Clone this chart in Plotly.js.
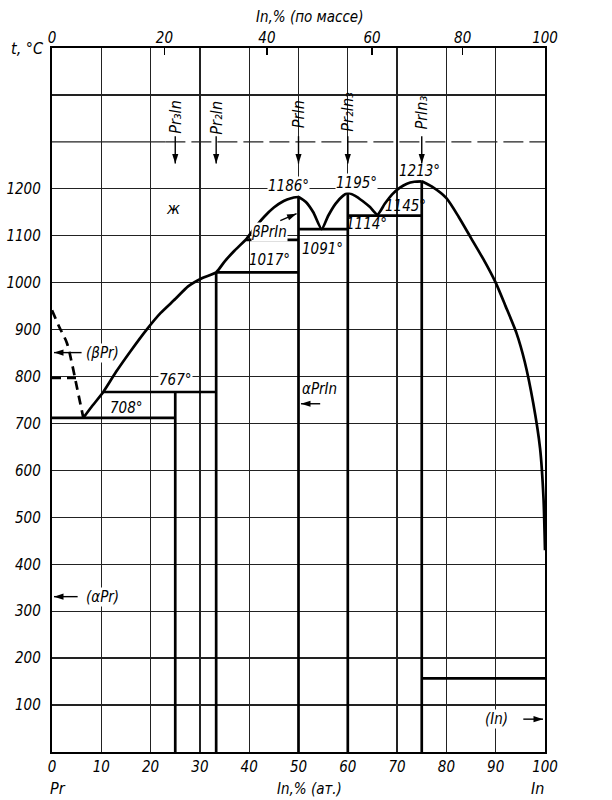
<!DOCTYPE html>
<html>
<head>
<meta charset="utf-8">
<script src="https://cdn.plot.ly/plotly-3.0.1.min.js"></script>
<style>html,body{margin:0;padding:0;background:#fff;}#chart{width:612px;height:800px;}</style>
</head>
<body>
<div id="chart"></div>
<script>
// ---- axes / ticks ----
const atPctTicks = [0,10,20,30,40,50,60,70,80,90,100];
const tempTicks = [100,200,300,400,500,600,700,800,900,1000,1100,1200,1400];
const tempTickText = ['100','200','300','400','500','600','700','800','900','1000','1100','1200',' '];
const massTickPos = [0,22.8,43.6,64.9,83.3,100];
const massTickText = ['0','20','40','60','80','100'];

// ---- phase boundaries ----
const prLiqX = [0,1.5,3,4,5,6.35];
const prLiqT = [941,905,872,830,780,712];
const betaPrX = [0,5.5];
const betaPrT = [797,797];
const liqAX = [6.35,8,10.4,13,16,19.2,22,25,27.6,30.5,33.3,35,37,39.5,41,43,45,47,48.5,50];
const liqAT = [712,735,767,810,855,900,935,965,992,1010,1022,1045,1068,1094,1115,1140,1160,1174,1180,1183];
const liqBX = [50,51.5,53,54.7,56,57.5,59,60,61.5,63,64.5,66,67.5,69,70.5,72,73.5,75];
const liqBT = [1183,1172,1150,1114,1142,1168,1185,1191,1185,1174,1161,1145,1168,1188,1202,1211,1215,1216];
const liqCX = [75,77,80,82.5,85,87.5,90,92,94.2,95.9,97.6,99,99.7,100];
const liqCT = [1216,1205,1180,1140,1095,1050,1000,950,893,831,744,647,540,430];

// compounds (vertical lines)
const compX = [25,33.3,50,60,75];
const compTop = [767,1022,1183,1191,1216];
const compNames = ['Pr₃In','Pr₂In','PrIn','Pr₂In₃','PrIn₃'];
const compLabelT = [1354,1352,1358,1364,1362];

// invariant horizontals
const isoT = [712,767,1022,1091,1114,1143,157];
const isoFrom = [0,10.4,33.3,39.3,50,60,75];
const isoTo = [25,33.3,50,50,60,75,100];

// reference dashed line (compound arrows)
const refT = 1300;
const refDashStart = 23;
const arrowTailT = 1312;
const arrowHeadT = 1254;

// temperature labels
const tLabText = ['1186°','1195°','1213°','1145°','1114°','1091°','1017°','708°','767°','ж'];
const tLabX = [48,61.8,74.5,71.7,63.7,54.8,44.2,15.1,25,24.5];
const tLabT = [1205,1212,1239,1164,1125,1071,1048,732,792,1157];
const tLabBg = [true,true,false,false,false,false,false,false,true,false];

// phase region labels with arrows
const phText = ['βPrIn','(βPr)','(αPr)','αPrIn','(In)'];
const phX = [44.2,10.2,10.2,54.3,90.2];
const phT = [1107,851,331,773,70];
const arTailX = [46.3,6.0,5.2,54.4,95.6];
const arTailT = [1132,851,331,742,70];
const arHeadX = [49.6,0.4,0.4,50.5,99.6];
const arHeadT = [1147,851,331,742,70];

const FONT = 'Liberation Sans Narrow, Arial Narrow, DejaVu Sans Condensed, sans-serif';
const f = (s) => ({family: FONT, size: s, color: '#000', style: 'italic'});

const W = 612, H = 800, M = {l:52, r:67, t:48, b:48};
const pxX = (W - M.l - M.r) / 100, pxT = (H - M.t - M.b) / 1500;

const traces = [];
const thick = {color:'#000', width:2.7};
const smooth = {color:'#000', width:2.7, shape:'spline', smoothing:0.6};
traces.push({x: prLiqX, y: prLiqT, mode:'lines', line:{color:'#000', width:2.7, dash:'9px,6px', shape:'spline'}, hoverinfo:'skip'});
traces.push({x: betaPrX, y: betaPrT, mode:'lines', line:{color:'#000', width:2.5, dash:'9px,6px'}, hoverinfo:'skip'});
traces.push({x: liqAX, y: liqAT, mode:'lines', line:smooth, hoverinfo:'skip'});
traces.push({x: liqBX, y: liqBT, mode:'lines', line:smooth, hoverinfo:'skip'});
traces.push({x: liqCX, y: liqCT, mode:'lines', line:smooth, hoverinfo:'skip'});
// vertical compound lines
let vx=[], vy=[];
compX.forEach((c,i)=>{ vx.push(c,c,null); vy.push(0,compTop[i],null); });
traces.push({x: vx, y: vy, mode:'lines', line:thick, hoverinfo:'skip'});
// horizontals
let hx=[], hy=[];
isoT.forEach((t,i)=>{ hx.push(isoFrom[i],isoTo[i],null); hy.push(t,t,null); });
traces.push({x: hx, y: hy, mode:'lines', line:thick, hoverinfo:'skip'});
// 1300 reference line
traces.push({x:[0,refDashStart], y:[refT,refT], mode:'lines', line:{color:'#222', width:1.3}, hoverinfo:'skip'});
traces.push({x:[refDashStart,100], y:[refT,refT], mode:'lines', line:{color:'#222', width:1.3, dash:'20px,6px'}, hoverinfo:'skip'});
// arrows: shafts + heads
const allTailX = arTailX.concat(compX);
const allTailT = arTailT.concat(compX.map(()=>arrowTailT));
const allHeadX = arHeadX.concat(compX);
const allHeadT = arHeadT.concat(compX.map(()=>arrowHeadT));
let sx=[], sy=[];
allTailX.forEach((x0,i)=>{ sx.push(x0, allHeadX[i], null); sy.push(allTailT[i], allHeadT[i], null); });
traces.push({x: sx, y: sy, mode:'lines', line:{color:'#000', width:1.4}, hoverinfo:'skip'});
const headAngle = allTailX.map((x0,i)=> Math.atan2((allHeadX[i]-x0)*pxX, (allHeadT[i]-allTailT[i])*pxT) * 180 / Math.PI);
traces.push({x: allHeadX, y: allHeadT, mode:'markers', marker:{symbol:'arrow', size:10, angle: headAngle, color:'#000'},
  hoverinfo:'skip', cliponaxis:false});
// invisible trace for the top axis
traces.push({x:[0,100], y:[0,0], xaxis:'x2', mode:'markers', marker:{opacity:0, size:1}, hoverinfo:'skip'});

const annotations = [];
const ann = (o) => annotations.push(Object.assign({xanchor:'center', yanchor:'middle', showarrow:false, borderpad:0}, o));
tLabText.forEach((t,i)=>{
  ann({x: tLabX[i], y: tLabT[i], xref:'x', yref:'y', text: t, font: f(t==='ж'?16:15),
    bgcolor: tLabBg[i]?'#fff':'rgba(0,0,0,0)'});
});
phText.forEach((t,i)=>{
  ann({x: phX[i], y: phT[i], xref:'x', yref:'y', text: t, font: f(15), bgcolor:'#fff'});
});
compX.forEach((c,i)=>{
  ann({x: c, y: compLabelT[i], xref:'x', yref:'y', text: compNames[i], textangle:-90, font: f(16)});
});
// outside labels
ann({x:-6.5, y:941, xref:'x', yref:'y', text:'931°', font:f(15)});
ann({x:-6.1, y:767, xref:'x', yref:'y', text:'795°', font:f(15)});
ann({x:101, y:160, xref:'x', yref:'y', xanchor:'left', text:'156,634°', font:f(15)});
ann({x:-0.049, y:1.0, xref:'paper', yref:'paper', text:'t, °C', font:f(16)});
ann({x:0.523, y:1.044, xref:'paper', yref:'paper', text:'In,% (по массе)', font:f(15)});
ann({x:0.523, y:-0.052, xref:'paper', yref:'paper', text:'In,% (ат.)', font:f(15)});
ann({x:0.012, y:-0.052, xref:'paper', yref:'paper', text:'Pr', font:f(16)});
ann({x:0.984, y:-0.052, xref:'paper', yref:'paper', text:'In', font:f(16)});

const layout = {
  width:W, height:H,
  margin:M,
  paper_bgcolor:'#fff', plot_bgcolor:'#fff',
  showlegend:false,
  xaxis:{range:[0,100], tickvals:atPctTicks, ticktext:atPctTicks.map(String), showgrid:true, gridcolor:'#222', gridwidth:1.3,
    zeroline:false, showline:true, linecolor:'#000', linewidth:2.2, mirror:true, ticks:'', tickfont:f(15), ticklabelstandoff:0},
  xaxis2:{range:[0,100], overlaying:'x', side:'top', anchor:'y', tickvals:massTickPos, ticktext:massTickText,
    ticks:'inside', ticklen:7, tickwidth:1.3, tickcolor:'#000', showgrid:false, zeroline:false, showline:false, tickfont:f(15), ticklabelstandoff:1},
  yaxis:{range:[0,1500], tickvals:tempTicks, ticktext:tempTickText, showgrid:true, gridcolor:'#222', gridwidth:1.3,
    zeroline:false, showline:true, linecolor:'#000', linewidth:2.2, mirror:true, ticks:'', tickfont:f(15), ticklabelstandoff:6},
  annotations: annotations
};
Plotly.newPlot('chart', traces, layout, {staticPlot:true, displayModeBar:false});
</script>
</body>
</html>
